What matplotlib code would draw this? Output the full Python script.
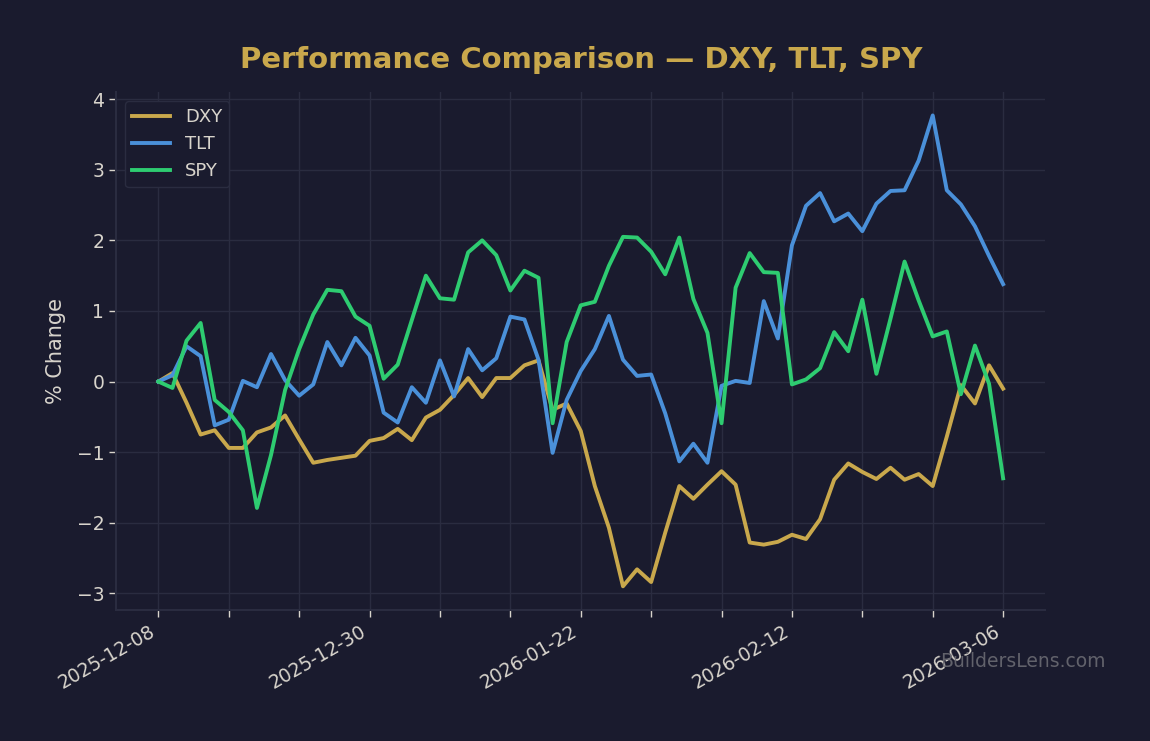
import matplotlib
matplotlib.use("Agg")
import matplotlib.pyplot as plt
import numpy as np

dates = ["2025-12-08", "2025-12-09", "2025-12-10", "2025-12-11", "2025-12-12",
         "2025-12-15", "2025-12-16", "2025-12-17", "2025-12-18", "2025-12-19",
         "2025-12-22", "2025-12-23", "2025-12-24", "2025-12-26", "2025-12-29",
         "2025-12-30", "2025-12-31", "2026-01-02", "2026-01-05", "2026-01-06",
         "2026-01-07", "2026-01-08", "2026-01-09", "2026-01-12", "2026-01-13",
         "2026-01-14", "2026-01-15", "2026-01-16", "2026-01-20", "2026-01-21",
         "2026-01-22", "2026-01-23", "2026-01-26", "2026-01-27", "2026-01-28",
         "2026-01-29", "2026-01-30", "2026-02-02", "2026-02-03", "2026-02-04",
         "2026-02-05", "2026-02-06", "2026-02-09", "2026-02-10", "2026-02-11",
         "2026-02-12", "2026-02-13", "2026-02-17", "2026-02-18", "2026-02-19",
         "2026-02-20", "2026-02-23", "2026-02-24", "2026-02-25", "2026-02-26",
         "2026-02-27", "2026-03-02", "2026-03-03", "2026-03-04", "2026-03-05",
         "2026-03-06"]

dxy = [0.00, 0.12, -0.30, -0.75, -0.69, -0.94, -0.94, -0.72, -0.65, -0.48,
       -0.82, -1.15, -1.11, -1.08, -1.05, -0.84, -0.80, -0.67, -0.83, -0.51,
       -0.40, -0.19, 0.05, -0.22, 0.05, 0.05, 0.23, 0.30, -0.40, -0.31,
       -0.70, -1.48, -2.07, -2.90, -2.66, -2.84, -2.14, -1.48, -1.66, -1.46,
       -1.27, -1.46, -2.28, -2.31, -2.27, -2.17, -2.23, -1.95, -1.39, -1.16,
       -1.28, -1.38, -1.22, -1.39, -1.31, -1.48, -0.78, -0.05, -0.31, 0.23,
       -0.10]

tlt = [0.00, 0.09, 0.50, 0.36, -0.62, -0.54, 0.01, -0.08, 0.39, 0.02,
       -0.20, -0.04, 0.56, 0.23, 0.62, 0.37, -0.44, -0.58, -0.08, -0.30,
       0.30, -0.21, 0.46, 0.16, 0.33, 0.92, 0.88, 0.31, -1.01, -0.26,
       0.15, 0.46, 0.93, 0.31, 0.08, 0.10, -0.45, -1.13, -0.88, -1.15,
       -0.06, 0.01, -0.02, 1.14, 0.61, 1.93, 2.49, 2.67, 2.27, 2.38,
       2.13, 2.52, 2.70, 2.71, 3.13, 3.77, 2.71, 2.51, 2.20, 1.78,
       1.38]

spy = [0.00, -0.09, 0.58, 0.83, -0.26, -0.43, -0.69, -1.79, -1.04, -0.12,
       0.46, 0.95, 1.30, 1.28, 0.92, 0.79, 0.04, 0.24, 0.87, 1.50,
       1.18, 1.16, 1.83, 2.00, 1.79, 1.29, 1.57, 1.47, -0.59, 0.56,
       1.08, 1.13, 1.64, 2.05, 2.04, 1.84, 1.52, 2.04, 1.17, 0.69,
       -0.59, 1.33, 1.82, 1.55, 1.54, -0.04, 0.03, 0.19, 0.70, 0.43,
       1.16, 0.11, 0.89, 1.70, 1.15, 0.64, 0.71, -0.18, 0.51, -0.03,
       -1.37]

series_names = ["DXY", "TLT", "SPY"]
series_colors = ["#c9a84c", "#4a90d9", "#2ecc71"]

BG = "#1a1b2e"
GRID = "#2a2c40"
TEXT = "#d8d4cc"

fig = plt.figure(figsize=(11.5, 7.41), dpi=100, facecolor=BG)
ax = fig.add_axes([0.101, 0.177, 0.808, 0.699])
ax.set_facecolor(BG)

x = np.arange(len(dates))
for name, vals, col in zip(series_names, [dxy, tlt, spy], series_colors):
    ax.plot(x, vals, color=col, lw=2.8, label=name)

ticks = x[::5]
ax.set_xticks(ticks)
ax.set_xticklabels([dates[i] if i % 15 == 0 else "" for i in ticks],
                   rotation=30, ha="right", fontsize=13.5, color=TEXT)
ax.tick_params(axis="both", colors=TEXT, labelsize=13.5, length=5, width=1)
for lab in ax.get_yticklabels():
    lab.set_color(TEXT)

ax.grid(True, color=GRID, lw=1)
ax.set_axisbelow(True)
for s in ["top", "right"]:
    ax.spines[s].set_visible(False)
for s in ["left", "bottom"]:
    ax.spines[s].set_color(GRID)
    ax.spines[s].set_linewidth(1.5)

ax.set_ylabel("% Change", color=TEXT, fontsize=15, labelpad=8)
ax.set_title("Performance Comparison — DXY, TLT, SPY", color="#c9a84c",
             fontsize=21, fontweight="bold", pad=17.5)

leg = ax.legend(loc="upper left", fontsize=13, facecolor=BG, edgecolor=GRID,
                framealpha=1.0, handlelength=2.1)
for t in leg.get_texts():
    t.set_color(TEXT)

fig.text(0.961, 0.107, "BuildersLens.com", color="#6a6a72", fontsize=13.5,
         ha="right", va="center", alpha=0.9)

fig.savefig("out.png", dpi=100, facecolor=BG)
